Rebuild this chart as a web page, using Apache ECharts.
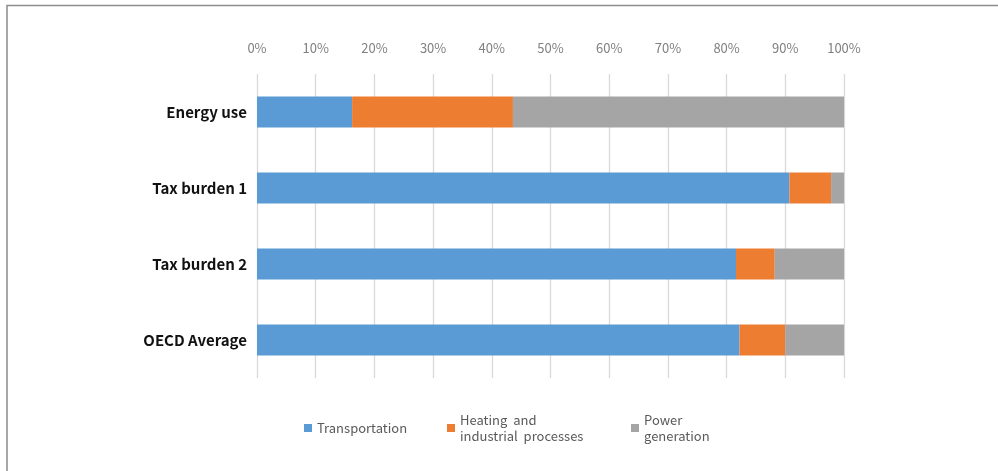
<!DOCTYPE html>
<html>
<head>
<meta charset="utf-8">
<script src="https://cdn.jsdelivr.net/npm/echarts@6/dist/echarts.min.js"></script>
<style>
html,body{margin:0;padding:0;background:#fff;}
#chart{width:998px;height:471px;}
</style>
</head>
<body>
<div id="chart"></div>
<script>
const categories = ['Energy use', 'Tax burden 1', 'Tax burden 2', 'OECD Average'];
const seriesNames = ['Transportation', 'Heating and industrial processes', 'Power generation'];
const transportation = [16.2, 90.7, 81.6, 82.2];
const heating = [27.4, 7.1, 6.6, 7.8];
const power = [56.4, 2.2, 11.8, 10.0];
const xTicks = [0, 10, 20, 30, 40, 50, 60, 70, 80, 90, 100];

const colors = ['#5b9bd5', '#ed7d31', '#a5a5a5'];
const legendLabels = {
  'Transportation': 'Transportation',
  'Heating and industrial processes': 'Heating  and\nindustrial  processes',
  'Power generation': 'Power\ngeneration'
};
const FONT = '"Noto Sans CJK KR", "Noto Sans", sans-serif';

const chart = echarts.init(document.getElementById('chart'), null, {renderer: 'canvas'});
const legendLefts = [304, 447, 631];
const legendTops = [420, 412, 412];
const values = [transportation, heating, power];

const option = {
  animation: false,
  backgroundColor: '#fff',
  graphic: [{
    type: 'rect',
    shape: {x: 7, y: 5.5, width: 1100, height: 600},
    style: {fill: 'none', stroke: '#8c8c8c', lineWidth: 1.5},
    silent: true
  }],
  grid: {left: 257, right: 154, top: 74, bottom: 93},
  xAxis: {
    type: 'value',
    position: 'top',
    min: xTicks[0],
    max: xTicks[xTicks.length - 1],
    interval: 10,
    axisLine: {show: false},
    axisTick: {show: false},
    axisLabel: {
      formatter: '{value}%',
      color: '#808080',
      fontSize: 13,
      fontFamily: FONT,
      margin: 19
    },
    splitLine: {show: true, lineStyle: {color: '#d9d9d9', width: 1.3}}
  },
  yAxis: {
    type: 'category',
    data: categories,
    inverse: true,
    axisLine: {show: false},
    axisTick: {show: false},
    axisLabel: {
      color: '#111',
      fontSize: 15,
      fontWeight: 'bold',
      fontFamily: FONT,
      margin: 10
    }
  },
  legend: seriesNames.map((n, i) => ({
    data: [n],
    left: legendLefts[i],
    top: legendTops[i],
    padding: 0,
    itemWidth: 8,
    itemHeight: 8,
    icon: 'rect',
    selectedMode: false,
    formatter: (name) => legendLabels[name],
    textStyle: {color: '#595959', fontSize: 13, fontFamily: FONT, lineHeight: 16}
  })),
  series: seriesNames.map((n, i) => ({
    name: n,
    type: 'bar',
    stack: 'total',
    data: values[i],
    barWidth: 31,
    itemStyle: {color: colors[i]}
  }))
};
chart.setOption(option);
</script>
</body>
</html>
